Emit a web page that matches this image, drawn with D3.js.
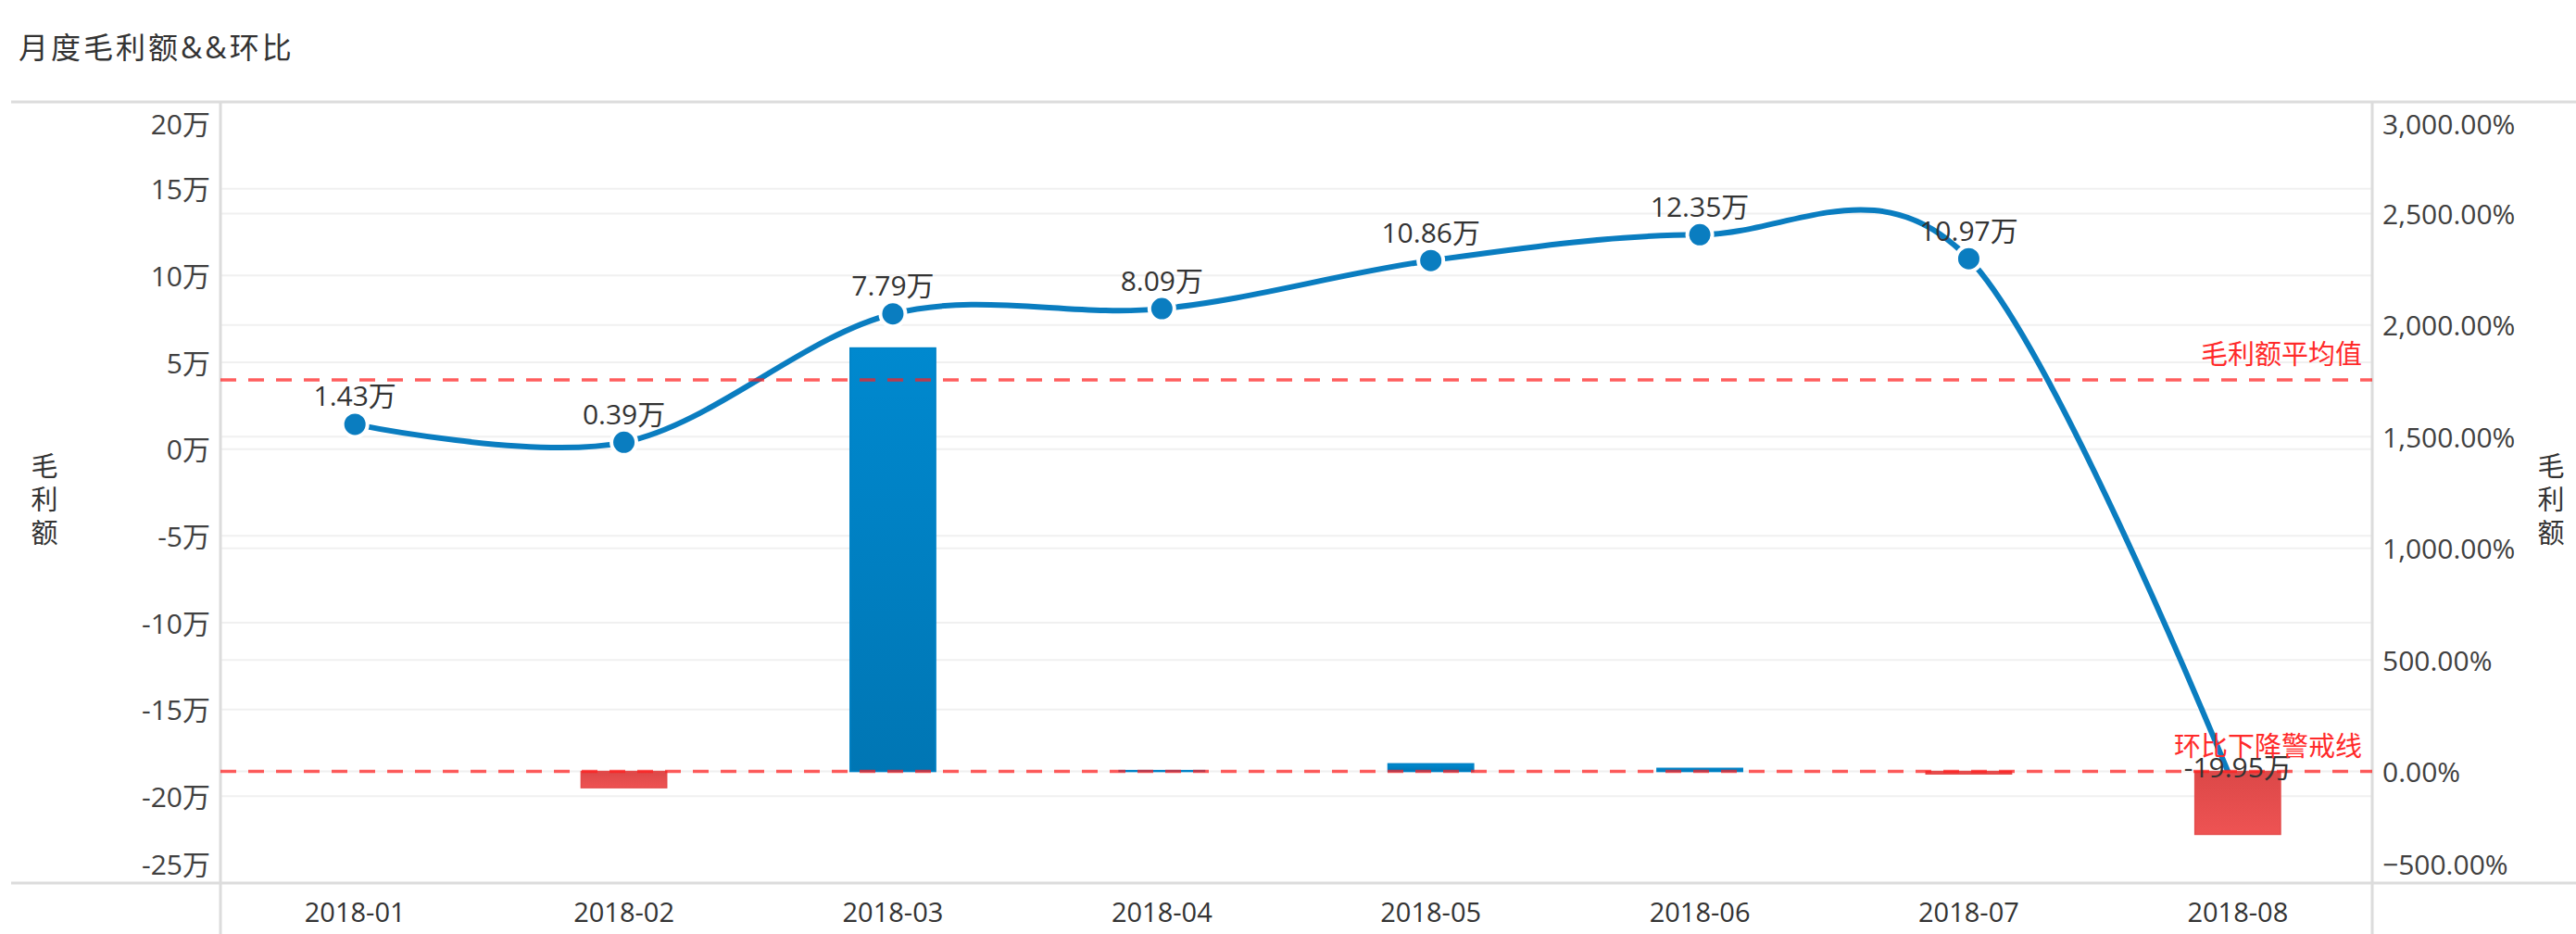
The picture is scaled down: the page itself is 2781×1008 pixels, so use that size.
<!DOCTYPE html>
<html>
<head>
<meta charset="utf-8">
<script src="https://cdn.jsdelivr.net/npm/d3@7"></script>
<style>
  html, body { margin: 0; padding: 0; background: #fff; }
  svg { display: block; }
  text { font-family: "Open Sans", "Noto Sans CJK SC", sans-serif; }
</style>
</head>
<body>
<svg id="chart" width="2781" height="1008"></svg>
<script>
// ---- data ----
const categories = ["2018-01", "2018-02", "2018-03", "2018-04", "2018-05", "2018-06", "2018-07", "2018-08"];
const grossProfit = [1.43, 0.39, 7.79, 8.09, 10.86, 12.35, 10.97, -19.95];      // 万
const momPercent = [null, -72.73, 1897.44, 3.85, 34.24, 13.72, -11.17, -281.86]; // %
const leftTicks = [-25, -20, -15, -10, -5, 0, 5, 10, 15, 20];
const rightTicks = [-500, 0, 500, 1000, 1500, 2000, 2500, 3000];
const titleText = "月度毛利额&&环比";
const axisTitle = "毛利额";
const avgLabel = "毛利额平均值";
const warnLabel = "环比下降警戒线";
const warnValue = 0;

// ---- layout ----
const W = 2781, H = 1008;
const plot = { left: 238, right: 2561, top: 110, bottom: 953 };
const svg = d3.select("#chart");

const x = d3.scaleBand().domain(categories).range([plot.left, plot.right]).padding(0);
const yL = d3.scaleLinear().domain([-25, 20]).range([plot.bottom, plot.top]);
const yR = d3.scaleLinear().domain([-500, 3000]).range([plot.bottom, plot.top]);

// gradients
const defs = svg.append("defs");
const gBlue = defs.append("linearGradient").attr("id", "gBlue").attr("x1", 0).attr("y1", 0).attr("x2", 0).attr("y2", 1);
gBlue.append("stop").attr("offset", "0%").attr("stop-color", "#0089cf");
gBlue.append("stop").attr("offset", "100%").attr("stop-color", "#0076b4");
const gRed = defs.append("linearGradient").attr("id", "gRed").attr("x1", 0).attr("y1", 0).attr("x2", 0).attr("y2", 1);
gRed.append("stop").attr("offset", "0%").attr("stop-color", "#dc4848");
gRed.append("stop").attr("offset", "100%").attr("stop-color", "#ee5353");

// title
svg.append("text").attr("x", 20).attr("y", 50)
  .attr("dominant-baseline", "central")
  .attr("font-size", 32).attr("letter-spacing", 3).attr("fill", "#333")
  .text(titleText);

// gridlines
svg.append("g").selectAll("line").data(leftTicks).join("line")
  .attr("x1", plot.left).attr("x2", plot.right)
  .attr("y1", d => yL(d)).attr("y2", d => yL(d))
  .attr("stroke", "#f0f0f0").attr("stroke-width", 2);
svg.append("g").selectAll("line").data(rightTicks).join("line")
  .attr("x1", plot.left).attr("x2", plot.right)
  .attr("y1", d => yR(d)).attr("y2", d => yR(d))
  .attr("stroke", "#f0f0f0").attr("stroke-width", 2);

// frame lines
const frame = svg.append("g").attr("stroke", "#dcdcdc").attr("stroke-width", 3);
frame.append("line").attr("x1", 12).attr("x2", W).attr("y1", plot.top).attr("y2", plot.top);
frame.append("line").attr("x1", 12).attr("x2", W).attr("y1", plot.bottom).attr("y2", plot.bottom);
frame.append("line").attr("x1", plot.left).attr("x2", plot.left).attr("y1", plot.top).attr("y2", H);
frame.append("line").attr("x1", plot.right).attr("x2", plot.right).attr("y1", plot.top).attr("y2", H);

// left tick labels
const clampY = v => Math.max(133, Math.min(932, v));
svg.append("g").selectAll("text").data(leftTicks).join("text")
  .attr("x", 227).attr("y", d => clampY(yL(d)))
  .attr("text-anchor", "end").attr("dominant-baseline", "central")
  .attr("font-size", 30).attr("fill", "#404040")
  .text(d => d + "万");
// right tick labels
const fmtPct = d3.format(",.2f");
svg.append("g").selectAll("text").data(rightTicks).join("text")
  .attr("x", 2572).attr("y", d => clampY(yR(d)))
  .attr("text-anchor", "start").attr("dominant-baseline", "central")
  .attr("font-size", 30).attr("fill", "#404040")
  .text(d => fmtPct(d) + "%");

// x labels
svg.append("g").selectAll("text").data(categories).join("text")
  .attr("x", d => x(d) + x.bandwidth() / 2).attr("y", 983)
  .attr("text-anchor", "middle").attr("dominant-baseline", "central")
  .attr("font-size", 29).attr("fill", "#333")
  .text(d => d);

// axis titles (vertical stacked)
function vTitle(cx) {
  const chars = Array.from(axisTitle);
  svg.append("g").selectAll("text").data(chars).join("text")
    .attr("x", cx).attr("y", (d, i) => 502 + i * 36)
    .attr("text-anchor", "middle").attr("dominant-baseline", "central")
    .attr("font-size", 29).attr("fill", "#333")
    .text(d => d);
}
vTitle(48);
vTitle(2754);

// line (gross profit) on left axis
const pts = categories.map((c, i) => ({ c, v: grossProfit[i] }));
const line = d3.line()
  .x(d => x(d.c) + x.bandwidth() / 2)
  .y(d => yL(d.v))
  .curve(d3.curveCardinal.tension(0));
svg.append("path").datum(pts)
  .attr("d", line).attr("fill", "none")
  .attr("stroke", "#0a7dc0").attr("stroke-width", 6);
svg.append("g").selectAll("circle").data(pts).join("circle")
  .attr("cx", d => x(d.c) + x.bandwidth() / 2).attr("cy", d => yL(d.v))
  .attr("r", 13.5).attr("fill", "#0a7dc0")
  .attr("stroke", "#fff").attr("stroke-width", 4);

// bars (month-over-month %) on right axis
const barW = x.bandwidth() * 0.318;
const barData = categories.map((c, i) => ({ c, v: momPercent[i] })).filter(d => d.v !== null);
svg.append("g").selectAll("rect").data(barData).join("rect")
  .attr("x", d => x(d.c) + x.bandwidth() / 2 - barW / 2)
  .attr("width", barW)
  .attr("y", d => Math.min(yR(d.v), yR(0)))
  .attr("height", d => Math.abs(yR(d.v) - yR(0)))
  .attr("fill", d => d.v >= 0 ? "url(#gBlue)" : "url(#gRed)")
  .attr("stroke", d => d.v >= 0 ? "#0082c6" : "#e44c4c")
  .attr("stroke-width", 1.5);

// reference lines
const avgValue = d3.mean(grossProfit);
const refs = [
  { y: yL(avgValue), label: avgLabel },
  { y: yR(warnValue), label: warnLabel }
];
svg.append("g").selectAll("line").data(refs).join("line")
  .attr("x1", plot.left).attr("x2", plot.right)
  .attr("y1", d => d.y).attr("y2", d => d.y)
  .attr("stroke", "rgba(255,30,30,0.72)").attr("stroke-width", 3.5)
  .attr("stroke-dasharray", "17,13");

// data labels
svg.append("g").selectAll("text").data(pts).join("text")
  .attr("x", d => x(d.c) + x.bandwidth() / 2).attr("y", d => yL(d.v) - 31)
  .attr("text-anchor", "middle").attr("dominant-baseline", "central")
  .attr("font-size", 30).attr("fill", "#333")
  .text(d => d.v.toFixed(2) + "万");

// reference labels
svg.append("g").selectAll("text").data(refs).join("text")
  .attr("x", 2550).attr("y", d => d.y - 28)
  .attr("text-anchor", "end").attr("dominant-baseline", "central")
  .attr("font-size", 29).attr("fill", "#ff2a2a")
  .text(d => d.label);
</script>
</body>
</html>
